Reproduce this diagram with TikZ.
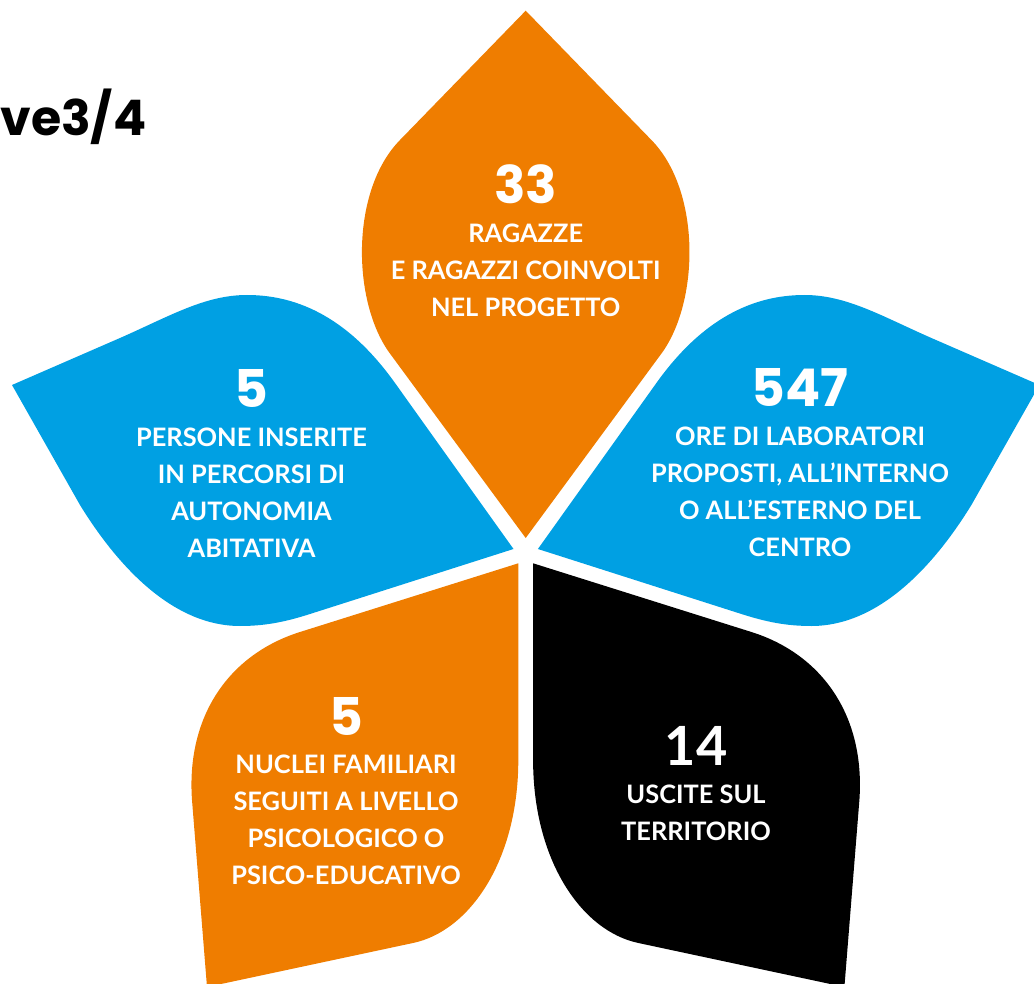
\documentclass[tikz,border=0pt]{standalone}
\usepackage{fontspec}
\setmainfont{Lato}
\newfontfamily\numfont{Poppins}
\usepackage{tikz}
\usetikzlibrary{positioning}

\definecolor{leaforange}{RGB}{239,125,0}
\definecolor{leafblue}{RGB}{0,160,227}

\tikzset{num/.style={font={\fontsize{26}{26}\selectfont\numfont\bfseries}, text=white, inner sep=0pt, anchor=base}}
\tikzset{lbl/.style={font={\fontsize{12.7}{18.5}\selectfont\bfseries}, text=white, align=center, inner sep=0pt}}

\begin{document}
\begin{tikzpicture}[x=0.5pt,y=-0.5pt]
\useasboundingbox (0,0) rectangle (1034,984);
\clip (0,0) rectangle (1034,984);
% top leaf
\fill[leaforange] (525.7,10.7) -- (400,140) .. controls (350,191) and (352,302) .. (390,353.6)
  -- (525.7,538) -- (661.4,353.6) .. controls (699.4,302) and (701.4,191) .. (651.4,140) -- cycle;
% side leaves, left ones mirrored to the right
\foreach \sx/\lowc in {1/leaforange,-1/black} {
\begin{scope}[shift={(525.7-525.7*\sx,0)}, xscale=\sx]
\fill[leafblue] (12,385) -- (120,338) .. controls (170,316) and (205,295) .. (247,295)
  .. controls (300,295) and (350,320) .. (395,383) -- (513.5,549) -- (310,614)
  .. controls (285,622) and (265,626) .. (240,626) .. controls (175,626) and (120,570) .. (80,505) -- cycle;
\fill[\lowc] (518.3,563.3) -- (518.3,760) .. controls (518.3,860) and (470,931) .. (413,943)
  -- (207,987) -- (192,800) .. controls (186,715) and (230,654) .. (300,632) -- cycle;
\end{scope}
}
\node[anchor=base west, inner sep=0pt, font={\fontsize{24.5}{24.5}\selectfont\numfont\bfseries}] (title) at (0,136) {ve3/4};

\node[num] (n33) at (525.7,204) {33};
\node[lbl, below=9.5pt of n33] (l33) {RAGAZZE\\E RAGAZZI COINVOLTI\\NEL PROGETTO};
\node[num] (n5a) at (251.5,408) {5};
\node[lbl, below=9.5pt of n5a] (l5a) {PERSONE INSERITE\\IN PERCORSI DI\\AUTONOMIA\\ABITATIVA};
\node[num] (n547) at (800,407) {547};
\node[lbl, below=9.5pt of n547] (l547) {ORE DI LABORATORI\\PROPOSTI, ALL’INTERNO\\O ALL’ESTERNO DEL\\CENTRO};
\node[num] (n5b) at (346,735) {5};
\node[lbl, below=9.5pt of n5b] (l5b) {NUCLEI FAMILIARI\\SEGUITI A LIVELLO\\PSICOLOGICO O\\PSICO-EDUCATIVO};
\node[num, font={\fontsize{27}{27}\selectfont\bfseries}] (n14) at (696,765) {14};
\node[lbl, below=9.5pt of n14] (l14) {USCITE SUL\\TERRITORIO};
\end{tikzpicture}
\end{document}
